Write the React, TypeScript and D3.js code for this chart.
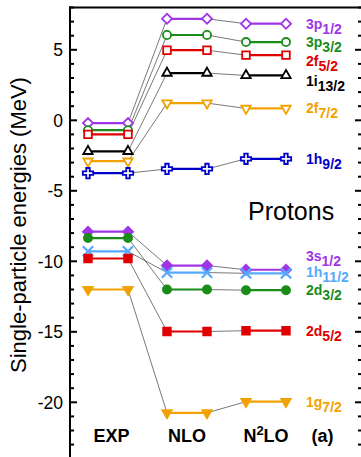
import { useRef, useEffect } from "react";
import * as d3 from "d3";

const methods = ["EXP", "NLO", "N2LO"];

const orbitalMain = ["3p", "3p", "2f", "1i", "2f", "1h", "3s", "2d", "1h", "2d", "1g"];
const orbitalSub = ["1/2", "3/2", "5/2", "13/2", "7/2", "9/2", "1/2", "3/2", "11/2", "5/2", "7/2"];

const expEnergies = [-0.2, -0.7, -1.0, -2.2, -2.9, -3.75, -7.9, -8.35, -9.3, -9.8, -12.0];
const nloEnergies = [7.2, 6.05, 4.97, 3.35, 1.22, -3.45, -10.3, -12.0, -10.8, -14.98, -20.75];
const n2loEnergies = [6.85, 5.55, 4.62, 3.18, 0.84, -2.73, -10.6, -12.05, -10.85, -14.92, -19.95];

// where the orbital name sits (MeV), nudged where levels crowd
const labelEnergies = [6.8, 5.55, 4.2, 2.8, 0.9, -2.75, -9.65, -12.05, -10.75, -14.95, -19.95];

const yTicks = [5, 0, -5, -10, -15, -20];

type Marker = "diamond" | "circle" | "square" | "triangle" | "triangleDown" | "cross" | "x";

const markers: Marker[] = [
  "diamond", "circle", "square", "triangle", "triangleDown", "cross",
  "diamond", "circle", "x", "square", "triangleDown",
];
const filled = [false, false, false, false, false, false, true, true, false, true, true];

const colors = [
  "#a035e6", "#198c19", "#e00000", "#000000", "#f2a200", "#0000c8",
  "#a035e6", "#198c19", "#55aaff", "#e00000", "#f2a200",
];

const font = "'Liberation Sans', Arial, Helvetica, sans-serif";

function symbolPath(m: Marker) {
  switch (m) {
    case "diamond":
      return d3.symbol(d3.symbolSquare, 50)();
    case "circle":
      return d3.symbol(d3.symbolCircle, 52)();
    case "square":
      return d3.symbol(d3.symbolSquare, 58)();
    case "triangle":
    case "triangleDown":
      return d3.symbol(d3.symbolTriangle, 38)();
    case "cross":
      return d3.symbol(d3.symbolCross, 60)();
    case "x":
      return d3.symbol(d3.symbolX, 70)();
  }
}

function rotation(m: Marker) {
  if (m === "diamond") return 45;
  if (m === "triangleDown") return 180;
  return 0;
}

export default function App() {
  const svgRef = useRef<SVGSVGElement>(null);
  const width = 361;
  const height = 457;

  useEffect(() => {
    if (!svgRef.current) return;
    const svg = d3.select(svgRef.current);
    svg.selectAll("*").remove();

    const left = 70;
    const right = 361;
    const top = 7.5;

    const y = d3.scaleLinear().domain([8, -24]).range([top, top + 32 * 14.1]);
    const x = d3.scalePoint<string>().domain(methods).range([108, 266]);
    const half = 20;

    const series = [expEnergies, nloEnergies, n2loEnergies];

    // frame
    svg.append("line")
      .attr("x1", left).attr("x2", left)
      .attr("y1", top - 1).attr("y2", height)
      .attr("stroke", "#000").attr("stroke-width", 2);
    svg.append("line")
      .attr("x1", left - 1).attr("x2", right)
      .attr("y1", top).attr("y2", top)
      .attr("stroke", "#000").attr("stroke-width", 2);

    // ticks
    const minor = d3.range(-24, 9, 1);
    for (const v of minor) {
      const major = v % 5 === 0;
      const len = major ? 7 : 4;
      svg.append("line")
        .attr("x1", left).attr("x2", left + len)
        .attr("y1", y(v)).attr("y2", y(v))
        .attr("stroke", "#000").attr("stroke-width", 2);
      svg.append("line")
        .attr("x1", right - len + 1).attr("x2", right)
        .attr("y1", y(v)).attr("y2", y(v))
        .attr("stroke", "#000").attr("stroke-width", 2);
    }

    svg.selectAll("text.ytick")
      .data(yTicks)
      .join("text")
      .attr("class", "ytick")
      .attr("x", 63)
      .attr("y", (d) => y(d))
      .attr("dy", "0.36em")
      .attr("text-anchor", "end")
      .attr("font-family", font)
      .attr("font-size", 17.5)
      .text((d) => String(d));

    svg.append("text")
      .attr("transform", `translate(25.5,225) rotate(-90)`)
      .attr("text-anchor", "middle")
      .attr("font-family", font)
      .attr("font-size", 22)
      .text("Single-particle energies (MeV)");

    // connectors between columns
    const g = svg.append("g");
    for (let i = 0; i < orbitalMain.length; i++) {
      for (let c = 0; c < 2; c++) {
        g.append("line")
          .attr("x1", x(methods[c])! + half)
          .attr("x2", x(methods[c + 1])! - half)
          .attr("y1", y(series[c][i]))
          .attr("y2", y(series[c + 1][i]))
          .attr("stroke", "#555")
          .attr("stroke-width", 0.8);
      }
    }

    // levels
    for (let i = 0; i < orbitalMain.length; i++) {
      const col = colors[i];
      const lg = svg.append("g");
      for (let c = 0; c < 3; c++) {
        const cx = x(methods[c])!;
        const cy = y(series[c][i]);
        lg.append("line")
          .attr("x1", cx - half).attr("x2", cx + half)
          .attr("y1", cy).attr("y2", cy)
          .attr("stroke", col).attr("stroke-width", 2.2);
        for (const px of [cx - half, cx + half]) {
          const m = markers[i];
          lg.append("path")
            .attr("d", symbolPath(m))
            .attr("transform", `translate(${px},${cy}) rotate(${rotation(m)})`)
            .attr("fill", m === "x" ? "none" : filled[i] ? col : "#fff")
            .attr("stroke", col)
            .attr("stroke-width", m === "x" ? 2.2 : 1.8);
        }
      }

      const t = svg.append("text")
        .attr("x", 306)
        .attr("y", y(labelEnergies[i]))
        .attr("dy", "0.36em")
        .attr("font-family", font)
        .attr("font-weight", "bold")
        .attr("font-size", 14)
        .attr("fill", col);
      t.append("tspan").text(orbitalMain[i]);
      t.append("tspan")
        .attr("dy", 5)
        .attr("font-size", 14)
        .text(orbitalSub[i]);
    }

    // column labels
    const xl = svg.append("g")
      .attr("font-family", font)
      .attr("font-weight", "bold")
      .attr("font-size", 18)
      .attr("text-anchor", "middle");
    xl.append("text").attr("x", x("EXP")! + 3.5).attr("y", 441.5).text("EXP");
    xl.append("text").attr("x", x("NLO")!).attr("y", 441.5).text("NLO");
    const n2 = xl.append("text").attr("x", x("N2LO")!).attr("y", 441.5);
    n2.append("tspan").text("N");
    n2.append("tspan").attr("dy", -7).attr("font-size", 13).text("2");
    n2.append("tspan").attr("dy", 7).text("LO");
    xl.append("text").attr("x", 322.5).attr("y", 441.5).text("(a)");

    svg.append("text")
      .attr("x", 248)
      .attr("y", 220)
      .attr("font-family", font)
      .attr("font-size", 25)
      .text("Protons");
  }, []);

  return (
    <svg
      ref={svgRef}
      width={width}
      height={height}
      viewBox={`0 0 ${width} ${height}`}
      style={{ position: "absolute", left: 0, top: 0, background: "#fff" }}
    />
  );
}
